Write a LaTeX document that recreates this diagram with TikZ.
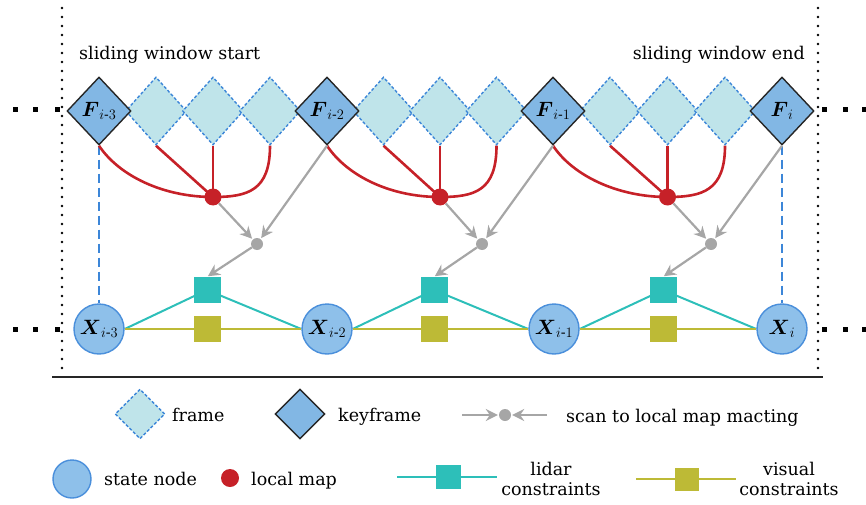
\documentclass[tikz,border=0pt]{standalone}
\usepackage{amsmath}
\usepackage{fontspec}
\setmainfont{DejaVu Serif}
\usetikzlibrary{shapes.geometric,arrows.meta}

\definecolor{framefill}{HTML}{BFE4EA}
\definecolor{dashblue}{HTML}{3C86D8}
\definecolor{kffill}{HTML}{82B7E4}
\definecolor{stfill}{HTML}{8EC0EA}
\definecolor{stborder}{HTML}{4A8FDB}
\definecolor{mapred}{HTML}{C62128}
\definecolor{scangray}{HTML}{A6A6A6}
\definecolor{lidarc}{HTML}{2DBFB9}
\definecolor{visc}{HTML}{BDBA36}

\pgfdeclarelayer{bg}
\pgfsetlayers{bg,main}

\begin{document}
\begin{tikzpicture}[x=1pt,y=-1pt,
  lbl/.style={font=\fontsize{17.5}{20}\selectfont, inner sep=0pt, text=black},
  frm/.style={diamond, draw=dashblue, fill=framefill, line width=1.4pt,
    dash pattern=on 3pt off 2pt, minimum width=61pt, minimum height=68pt, inner sep=0pt},
  kf/.style={diamond, draw=black!85, fill=kffill, line width=1.4pt,
    minimum width=64pt, minimum height=68pt, inner sep=0pt, font=\fontsize{20}{22}\selectfont},
  st/.style={circle, draw=stborder, fill=stfill, line width=1.4pt,
    minimum size=50pt, inner sep=0pt, font=\fontsize{20.5}{22}\selectfont},
  lmap/.style={circle, fill=mapred, minimum size=17pt, inner sep=0pt},
  gdot/.style={circle, fill=scangray, minimum size=12pt, inner sep=0pt},
  lsq/.style={rectangle, fill=lidarc, minimum width=27pt, minimum height=26pt, inner sep=0pt},
  vsq/.style={rectangle, fill=visc, minimum width=27pt, minimum height=26pt, inner sep=0pt},
  redln/.style={draw=mapred, line width=2.6pt},
  grayarr/.style={draw=scangray, line width=2.2pt,
    -{Stealth[length=12pt,width=12pt,inset=4pt]}, shorten >=1pt},
  bluedash/.style={draw=dashblue, line width=2.5pt, dash pattern=on 9pt off 5pt},
  lidln/.style={draw=lidarc, line width=2pt},
  visln/.style={draw=visc, line width=2.4pt},
  dotline/.style={draw=black, line width=2.6pt, line cap=round, dash pattern=on 0pt off 9pt},
  bigdot/.style={fill=black}
]
\useasboundingbox (0,0) rectangle (866,505);

% window borders and base rule
\draw[dotline] (62,8) -- (62,374);
\draw[dotline] (818,8) -- (818,374);
\draw[line width=2.6pt, black!85] (52,377) -- (823,377);
\foreach \px in {15,35,57,824,845,864}{
  \fill[bigdot] (\px-2.5,107.5) rectangle (\px+2.5,112.5);
  \fill[bigdot] (\px-2.5,326.5) rectangle (\px+2.5,331.5);
}

% window captions
\node[lbl, anchor=base west] (wstart) at (79,60) {sliding window start};
\node[lbl, anchor=base east] (wend) at (805,60) {sliding window end};

% ordinary frames
\foreach \n/\px in {1/156,2/213,3/270,4/383.5,5/440,6/496.5,7/610,8/667.5,9/725}{
  \node[frm] (f\n) at (\px,111) {};
}
% keyframes
\node[kf] (K1) at (99,111)  {$\boldsymbol{F}_{i\text{-}3}$};
\node[kf] (K2) at (327,111) {$\boldsymbol{F}_{i\text{-}2}$};
\node[kf] (K3) at (553,111) {$\boldsymbol{F}_{i\text{-}1}$};
\node[kf] (K4) at (782,111) {$\boldsymbol{F}_{i}$};

% local maps and scan-matching points
\node[lmap] (M1) at (213,197) {};
\node[lmap] (M2) at (440,197) {};
\node[lmap] (M3) at (667.5,197) {};
\node[gdot] (G1) at (257,244) {};
\node[gdot] (G2) at (482,244) {};
\node[gdot] (G3) at (711,244) {};

% constraint factors
\node[lsq] (L1) at (207,290) {};
\node[lsq] (L2) at (434,290) {};
\node[lsq] (L3) at (663,290) {};
\node[vsq] (V1) at (207,329) {};
\node[vsq] (V2) at (434,329) {};
\node[vsq] (V3) at (663,329) {};

% state nodes
\node[st] (X1) at (99,329)  {$\boldsymbol{X}_{i\text{-}3}$};
\node[st] (X2) at (327,329) {$\boldsymbol{X}_{i\text{-}2}$};
\node[st] (X3) at (554,329) {$\boldsymbol{X}_{i\text{-}1}$};
\node[st] (X4) at (782,329) {$\boldsymbol{X}_{i}$};

\begin{pgfonlayer}{bg}
  % keyframe to state links
  \draw[bluedash] (K1.south) -- (X1.north);
  \draw[bluedash] (K4.south) -- (X4.north);
  % frames feeding each local map
  \draw[redln] (K1.south) .. controls +(20,30) and +(-50,0) .. (M1.center);
  \draw[redln] (f1.south) -- (M1.center);
  \draw[redln] (f2.south) -- (M1.center);
  \draw[redln] (f3.south) .. controls +(0,45) and +(35,0) .. (M1.center);
  \draw[redln] (K2.south) .. controls +(20,30) and +(-50,0) .. (M2.center);
  \draw[redln] (f4.south) -- (M2.center);
  \draw[redln] (f5.south) -- (M2.center);
  \draw[redln] (f6.south) .. controls +(0,45) and +(35,0) .. (M2.center);
  \draw[redln] (K3.south) .. controls +(20,30) and +(-50,0) .. (M3.center);
  \draw[redln] (f7.south) -- (M3.center);
  \draw[redln] (f8.south) -- (M3.center);
  \draw[redln] (f9.south) .. controls +(0,45) and +(35,0) .. (M3.center);
  % lidar and visual constraints
  \draw[lidln] (X1.east) -- (L1.center) -- (X2.west);
  \draw[lidln] (X2.east) -- (L2.center) -- (X3.west);
  \draw[lidln] (X3.east) -- (L3.center) -- (X4.west);
  \draw[visln] (X1.east) -- (X2.west);
  \draw[visln] (X2.east) -- (X3.west);
  \draw[visln] (X3.east) -- (X4.west);
\end{pgfonlayer}

% scan to local map matching
\draw[grayarr] (M1) -- (G1);
\draw[grayarr] (K2.south) -- (G1);
\draw[grayarr] (G1) -- (L1.north);
\draw[grayarr] (M2) -- (G2);
\draw[grayarr] (K3.south) -- (G2);
\draw[grayarr] (G2) -- (L2.north);
\draw[grayarr] (M3) -- (G3);
\draw[grayarr] (K4.south) -- (G3);
\draw[grayarr] (G3) -- (L3.north);

% legend, first row
\node[frm, minimum width=50pt, minimum height=50pt] (legF) at (140,414) {};
\node[lbl, anchor=base west] (legFt) at (172,421) {frame};
\node[kf, minimum width=50pt, minimum height=50pt] (legK) at (300,414) {};
\node[lbl, anchor=base west] (legKt) at (338,421) {keyframe};
\coordinate (scanL) at (462,415);
\coordinate (scanR) at (547,415);
\node[gdot] (legG) at (505,415) {};
\draw[grayarr] (scanL) -- (legG);
\draw[grayarr] (scanR) -- (legG);
\node[lbl, anchor=base west] (legGt) at (566,422) {scan to local map macting};

% legend, second row
\node[st, minimum size=38pt] (legS) at (72,479) {};
\node[lbl, anchor=base west] (legSt) at (104,485) {state node};
\node[lmap, minimum size=18pt] (legM) at (230,478) {};
\node[lbl, anchor=base west] (legMt) at (251,485) {local map};
\coordinate (lidA) at (397,477);
\coordinate (lidB) at (497,477);
\draw[lidln] (lidA) -- (lidB);
\node[lsq, minimum width=25pt, minimum height=24pt] (legL) at (448,477) {};
\node[lbl, anchor=base] (legLt1) at (551,475) {lidar};
\node[lbl, anchor=base] (legLt2) at (551,495) {constraints};
\coordinate (visA) at (636,479);
\coordinate (visB) at (736,479);
\draw[visln] (visA) -- (visB);
\node[vsq, minimum width=24pt, minimum height=23pt] (legV) at (687,479) {};
\node[lbl, anchor=base] (legVt1) at (789,475) {visual};
\node[lbl, anchor=base] (legVt2) at (789,495) {constraints};
\end{tikzpicture}
\end{document}
